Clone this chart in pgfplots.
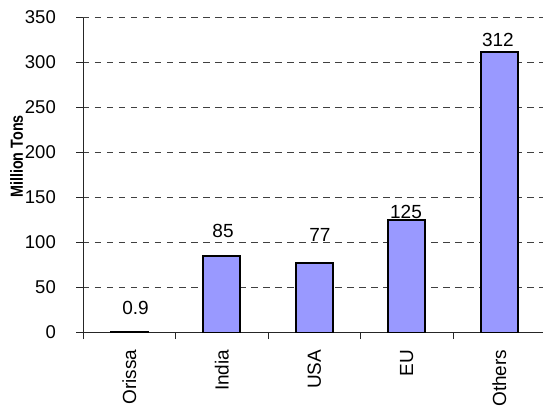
\documentclass[border=0pt]{standalone}
\usepackage{fontspec}
\setmainfont{Liberation Sans}
\usepackage{graphicx}
\usepackage{pgfplots}
\pgfplotsset{compat=1.18}
\definecolor{barblue}{HTML}{9999FF}
\begin{document}
\begin{tikzpicture}
\begin{axis}[
  scale only axis,
  width=460bp, height=315bp,
  xmin=-0.5, xmax=4.473,
  ymin=0, ymax=350,
  ybar, bar width=0.4, bar shift=0pt,
  axis x line*=bottom, axis y line*=left,
  axis line style={black!85, line width=0.9bp},
  /pgf/number format/assume math mode=true,
  ytick={0,50,...,350},
  xtick={-0.5,0.5,1.5,2.5,3.5},
  xticklabels={},
  extra x ticks={0,1,2,3,4},
  extra x tick labels={Orissa,India,USA,EU,Others},
  extra x tick style={major tick length=0pt,
    xticklabel style={yshift=-17bp, rotate=90, anchor=east, inner sep=0pt,
      font=\fontsize{19bp}{22bp}\selectfont}},
  major tick length=6.5bp,
  tick align=outside,
  tick style={black!85, line width=0.9bp},
  yticklabel style={anchor=east, inner sep=0pt, xshift=-20.5bp,
    font=\fontsize{18.5bp}{22bp}\selectfont},
  ymajorgrids,
  grid style={black!75, line width=0.8bp, dash pattern=on 6.5bp off 5.5bp},
]
\addplot[fill=barblue, draw=black, line width=1.9bp]
  coordinates {(0,0.9) (1,85) (2,77) (3,125) (4,312)};
\addplot[sharp plot, draw=none, mark=none, nodes near coords, point meta=explicit symbolic,
  nodes near coords style={anchor=center, inner sep=0pt, font=\fontsize{19bp}{22bp}\selectfont}]
  coordinates {(0.068,27.8)[0.9] (1.014,112.4)[85] (2.062,108.7)[77] (2.992,133.9)[125] (3.986,325)[312]};
\coordinate (BL) at (rel axis cs:0,0);
\coordinate (TR) at (rel axis cs:1,1);
\coordinate (YL) at (rel axis cs:0,0.559);
\end{axis}
\node[font=\bfseries\fontsize{17.5bp}{21bp}\selectfont, rotate=90, anchor=center, inner sep=0pt]
  at ([xshift=-66.5bp]YL) {\scalebox{0.82}[1]{Million Tons}};
\pgfresetboundingbox
\path[use as bounding box] ([shift={(-83bp,-79.5bp)}]BL) rectangle ([shift={(0bp,17.5bp)}]TR);
\end{tikzpicture}
\end{document}
